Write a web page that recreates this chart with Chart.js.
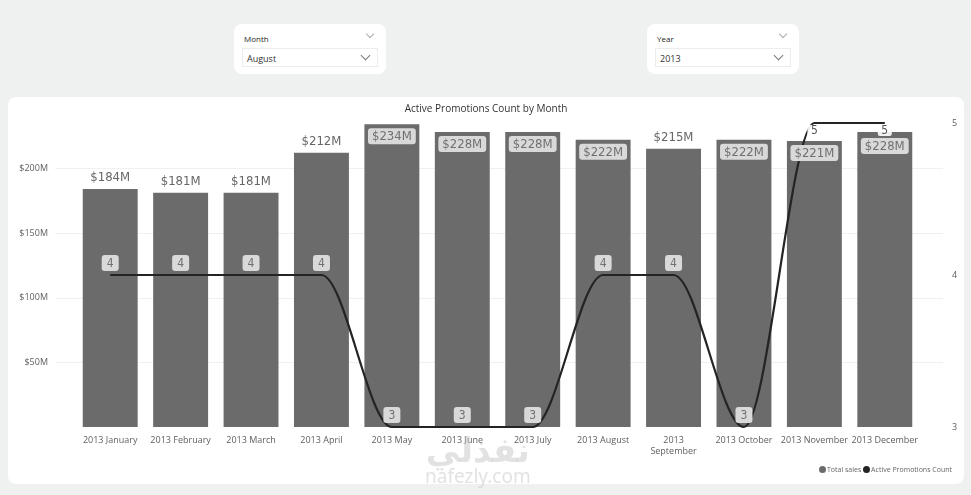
<!DOCTYPE html>
<html>
<head>
<meta charset="utf-8">
<script src="https://cdn.jsdelivr.net/npm/chart.js@4.4.1/dist/chart.umd.min.js"></script>
<style>
  html, body { margin: 0; padding: 0; }
  body { width: 971px; height: 495px; background: #eef1f0; position: relative; overflow: hidden; font-family: "Open Sans", "Noto Sans", sans-serif; }
  .slicer { position: absolute; top: 24px; width: 152px; height: 50px; background: #fff; border-radius: 8px; }
  .slicer .head { position: absolute; left: 10px; top: 9px; font-size: 8px; color: #252423; }
  .chev { position: absolute; width: 5px; height: 5px; border-right: 1px solid #aaa; border-bottom: 1px solid #aaa; transform: rotate(45deg); }
  .slicer > .chev { right: 13px; top: 7px; }
  .slicer .box { position: absolute; left: 8px; right: 8px; top: 24px; height: 19px; border: 1px solid #ececec; box-sizing: border-box; }
  .slicer .val { position: absolute; left: 4px; top: 3px; font-size: 9px; color: #333; }
  .slicer .box .chev { right: 8px; top: 3px; width: 6px; height: 6px; border-color: #777; }
  #card { position: absolute; left: 8px; top: 97px; width: 956px; height: 387px; background: #fff; border-radius: 8px; }
  #title { position: absolute; left: 0; width: 100%; top: 4px; text-align: center; font-size: 10px; color: #333; }
  #wrap { position: absolute; left: 0; top: 0; width: 956px; height: 387px; }
  #legend { position: absolute; right: 12px; top: 368px; font-size: 7px; color: #666; }
  #legend span.dot { display: inline-block; width: 7px; height: 7px; border-radius: 50%; vertical-align: -1px; margin-right: 1px; }
  #wm { position: absolute; left: 425px; top: 432px; color: rgba(190,190,190,0.45); text-align: center; pointer-events: none; }
  #wm .ar { font-size: 34px; font-weight: bold; line-height: 34px; font-family: "Noto Sans", "DejaVu Sans", sans-serif; }
  #wm .en { font-size: 19px; line-height: 20px; font-family: "Noto Sans", sans-serif; }
</style>
</head>
<body>
<div class="slicer" style="left:234px">
  <div class="head">Month</div><div class="chev"></div>
  <div class="box"><div class="val">August</div><div class="chev"></div></div>
</div>
<div class="slicer" style="left:647px">
  <div class="head">Year</div><div class="chev"></div>
  <div class="box"><div class="val">2013</div><div class="chev"></div></div>
</div>
<div id="card">
  <div id="wrap"><canvas id="c"></canvas></div>
  <div id="title">Active Promotions Count by Month</div>
  <div id="legend"><span class="dot" style="background:#6b6b6b"></span>Total sales <span class="dot" style="background:#252423"></span>Active Promotions Count</div>
</div>
<div id="wm"><div class="ar">نفذلي</div><div class="en">nafezly.com</div></div>
<script>
// data (sales in $M)
const months = ['2013 January', '2013 February', '2013 March', '2013 April', '2013 May', '2013 June',
  '2013 July', '2013 August', '2013 September', '2013 October', '2013 November', '2013 December'];
const totalSales = [184, 181, 181, 212, 234, 228, 228, 222, 215, 222, 221, 228];
const promoCount = [4, 4, 4, 4, 3, 3, 3, 4, 4, 3, 5, 5];
const salesTicks = [50, 100, 150, 200];

const labelFont = '13px "DejaVu Sans Condensed", Roboto, sans-serif';

function roundBox(ctx, x, y, w, h, r, fill) {
  ctx.beginPath();
  ctx.roundRect(x, y, w, h, r);
  ctx.fillStyle = fill;
  ctx.fill();
}

// fixed axis width; drop the extra top/bottom room chart.js adds for tick padding
function fixAxis(width) {
  return s => { s.width = width; s.paddingTop = 6; s.paddingBottom = 6; };
}

// light gridlines, a bit wider than the plot area like the original
const gridPlugin = {
  id: 'grid',
  beforeDatasetsDraw(chart) {
    const ctx = chart.ctx, y = chart.scales.y;
    ctx.save();
    ctx.strokeStyle = '#f0f0f0';
    ctx.lineWidth = 1;
    salesTicks.forEach(v => {
      const py = Math.round(y.getPixelForValue(v)) + 0.5;
      ctx.beginPath();
      ctx.moveTo(47, py);
      ctx.lineTo(935, py);
      ctx.stroke();
    });
    ctx.restore();
  }
};

// data labels for bars and line
const labelPlugin = {
  id: 'labels',
  afterDatasetsDraw(chart) {
    const ctx = chart.ctx;
    ctx.save();
    ctx.textAlign = 'center';
    ctx.textBaseline = 'middle';

    const bars = chart.getDatasetMeta(1).data;
    const pts = chart.getDatasetMeta(0).data;

    ctx.font = labelFont;
    bars.forEach((b, i) => {
      const txt = '$' + totalSales[i] + 'M';
      const w = ctx.measureText(txt).width + 8;
      if (totalSales[i] >= 220) {
        let top = b.y + 4;
        // keep clear of a line label sitting under the line
        if (promoCount[i] >= 5) top = Math.max(top, pts[i].y + 15);
        roundBox(ctx, b.x - w / 2, top, w, 16, 3, '#d9d9d9');
        ctx.fillStyle = '#707070';
        ctx.fillText(txt, b.x, top + 8.5);
      } else {
        ctx.fillStyle = '#666';
        ctx.fillText(txt, b.x, b.y - 11);
      }
    });

    ctx.font = '12px "DejaVu Sans Condensed", Roboto, sans-serif';
    pts.forEach((p, i) => {
      const txt = String(promoCount[i]);
      if (promoCount[i] >= 5) {
        roundBox(ctx, p.x - 7, p.y + 2, 14, 11, 2, 'rgba(255,255,255,0.9)');
        ctx.fillStyle = '#555';
        ctx.fillText(txt, p.x, p.y + 8);
      } else {
        roundBox(ctx, p.x - 8.5, p.y - 20, 17, 16, 3, '#d9d9d9');
        ctx.fillStyle = '#707070';
        ctx.fillText(txt, p.x, p.y - 11.5);
      }
    });
    ctx.restore();
  }
};

new Chart(document.getElementById('c'), {
  data: {
    labels: months,
    datasets: [{
      type: 'line',
      label: 'Active Promotions Count',
      data: promoCount,
      yAxisID: 'y1',
      borderColor: '#252423',
      borderWidth: 2.2,
      pointRadius: 0,
      cubicInterpolationMode: 'monotone',
      clip: false,
      order: 0
    }, {
      type: 'bar',
      label: 'Total sales',
      data: totalSales,
      yAxisID: 'y',
      backgroundColor: '#6b6b6b',
      categoryPercentage: 1,
      barPercentage: 0.78,
      order: 1
    }]
  },
  options: {
    responsive: true,
    maintainAspectRatio: false,
    animation: false,
    layout: { padding: { top: 26, left: 0, right: 0, bottom: 0 } },
    plugins: { legend: { display: false }, title: { display: false }, tooltip: { enabled: false } },
    scales: {
      x: {
        afterFit(s) { s.height = 57; },
        grid: { display: false, drawTicks: false },
        border: { display: false },
        ticks: {
          color: '#605e5c',
          font: { size: 9, family: '"Open Sans", sans-serif' },
          padding: 8,
          maxRotation: 0,
          autoSkip: false,
          callback(v) {
            const l = months[v];
            return l.length > 13 ? l.split(' ') : l;
          }
        }
      },
      y: {
        position: 'left',
        min: 0,
        max: 235,
        afterFit: fixAxis(67),
        grid: { display: false, drawTicks: false },
        border: { display: false },
        ticks: {
          stepSize: 50,
          padding: 27,
          color: '#605e5c',
          font: { size: 9, family: '"Open Sans", sans-serif' },
          callback: v => salesTicks.includes(v) ? '$' + v + 'M' : ''
        }
      },
      y1: {
        position: 'right',
        min: 3,
        max: 5,
        afterFit: fixAxis(44),
        grid: { display: false, drawTicks: false },
        border: { display: false },
        ticks: {
          stepSize: 1,
          padding: 32,
          color: '#605e5c',
          font: { size: 9, family: '"Open Sans", sans-serif' }
        }
      }
    }
  },
  plugins: [gridPlugin, labelPlugin]
});
</script>
</body>
</html>
